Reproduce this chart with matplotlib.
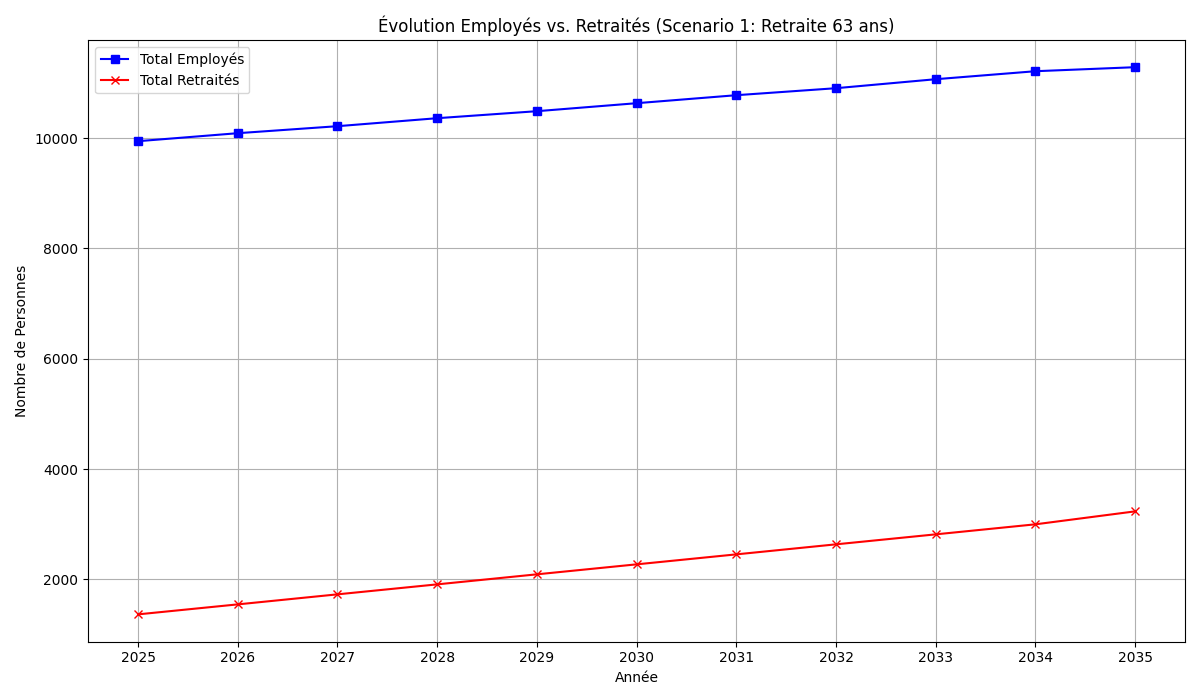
import matplotlib.pyplot as plt

annees = [2025, 2026, 2027, 2028, 2029, 2030, 2031, 2032, 2033, 2034, 2035]
total_employes = [9946, 10091, 10218, 10363, 10490, 10635, 10780, 10907, 11070, 11215, 11288]
total_retraites = [1365, 1546, 1728, 1909, 2091, 2272, 2453, 2635, 2816, 2998, 3233]

fig, ax = plt.subplots(figsize=(12, 7), dpi=100)

ax.plot(annees, total_employes, marker='s', color='blue', label='Total Employés')
ax.plot(annees, total_retraites, marker='x', color='red', label='Total Retraités')

ax.set_title('Évolution Employés vs. Retraités (Scenario 1: Retraite 63 ans)')
ax.set_xlabel('Année')
ax.set_ylabel('Nombre de Personnes')
ax.set_xticks(annees)
ax.grid(True)
ax.legend(loc='upper left')

plt.tight_layout()
plt.savefig('out.png')
